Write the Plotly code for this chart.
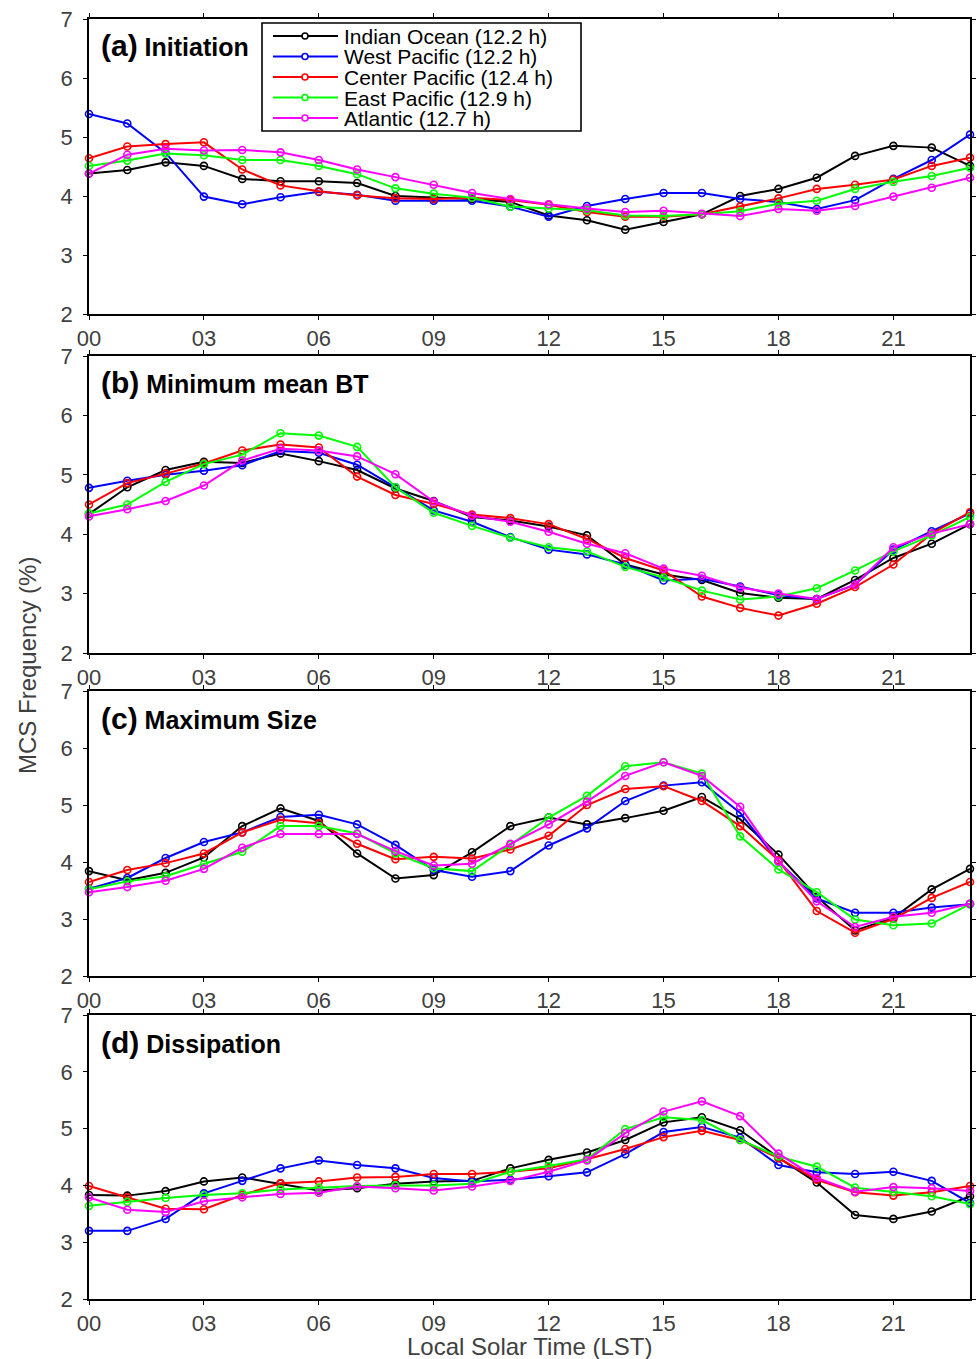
import plotly.graph_objects as go

# Local solar time (hour of day)
hours = list(range(24))
tick_hours = [0, 3, 6, 9, 12, 15, 18, 21]
tick_labels = ["00", "03", "06", "09", "12", "15", "18", "21"]

regions = ["Indian Ocean (12.2 h)", "West Pacific (12.2 h)", "Center Pacific (12.4 h)",
           "East Pacific (12.9 h)", "Atlantic (12.7 h)"]
colors = ["#000000", "#0000FF", "#FF0000", "#00FF00", "#FF00FF"]

panel_titles = ["(a)", "(b)", "(c)", "(d)"]
panel_names = ["Initiation", "Minimum mean BT", "Maximum Size", "Dissipation"]

# MCS frequency (%) by stage and region
initiation_indian = [4.38, 4.44, 4.57, 4.51, 4.29, 4.25, 4.25, 4.22, 4.00, 3.97, 3.95, 3.90,
                     3.67, 3.59, 3.43, 3.56, 3.69, 4.00, 4.12, 4.31, 4.68, 4.85, 4.82, 4.51]
initiation_west = [5.39, 5.23, 4.73, 3.99, 3.86, 3.98, 4.07, 4.02, 3.92, 3.92, 3.92, 3.82,
                   3.65, 3.83, 3.95, 4.05, 4.05, 3.95, 3.90, 3.78, 3.93, 4.29, 4.61, 5.04]
initiation_center = [4.64, 4.84, 4.88, 4.91, 4.45, 4.18, 4.08, 4.01, 3.96, 3.95, 3.97, 3.93,
                     3.85, 3.73, 3.65, 3.65, 3.69, 3.82, 3.96, 4.12, 4.19, 4.28, 4.51, 4.65]
initiation_east = [4.51, 4.60, 4.72, 4.69, 4.61, 4.61, 4.51, 4.37, 4.13, 4.04, 3.97, 3.82,
                   3.79, 3.76, 3.67, 3.66, 3.69, 3.74, 3.87, 3.92, 4.12, 4.24, 4.34, 4.48]
initiation_atlantic = [4.38, 4.70, 4.80, 4.77, 4.78, 4.74, 4.61, 4.45, 4.32, 4.19, 4.05, 3.95,
                       3.86, 3.79, 3.73, 3.75, 3.70, 3.66, 3.78, 3.75, 3.83, 3.99, 4.14, 4.31]

minbt_indian = [4.34, 4.79, 5.08, 5.22, 5.20, 5.36, 5.23, 5.08, 4.77, 4.56, 4.29, 4.23,
                4.13, 3.98, 3.49, 3.32, 3.23, 3.01, 2.93, 2.91, 3.23, 3.60, 3.84, 4.17]
minbt_west = [4.78, 4.90, 5.00, 5.07, 5.16, 5.40, 5.37, 5.17, 4.79, 4.40, 4.21, 3.95,
              3.74, 3.66, 3.49, 3.22, 3.25, 3.12, 2.97, 2.91, 3.15, 3.74, 4.05, 4.35]
minbt_center = [4.50, 4.86, 5.02, 5.19, 5.41, 5.51, 5.46, 4.97, 4.66, 4.51, 4.33, 4.27,
                4.17, 3.92, 3.60, 3.39, 2.95, 2.76, 2.63, 2.83, 3.11, 3.49, 4.01, 4.37]
minbt_east = [4.35, 4.50, 4.88, 5.18, 5.34, 5.70, 5.66, 5.47, 4.79, 4.36, 4.14, 3.94,
              3.78, 3.71, 3.45, 3.27, 3.05, 2.90, 2.95, 3.09, 3.39, 3.71, 3.98, 4.29]
minbt_atlantic = [4.30, 4.42, 4.56, 4.82, 5.24, 5.44, 5.41, 5.31, 5.01, 4.55, 4.31, 4.21,
                  4.04, 3.84, 3.68, 3.42, 3.30, 3.10, 3.00, 2.91, 3.15, 3.78, 4.01, 4.17]

maxsize_indian = [3.84, 3.68, 3.81, 4.08, 4.63, 4.94, 4.72, 4.15, 3.71, 3.77, 4.17, 4.63,
                  4.78, 4.66, 4.77, 4.90, 5.14, 4.75, 4.13, 3.39, 2.80, 3.02, 3.52, 3.88]
maxsize_west = [3.53, 3.72, 4.07, 4.35, 4.52, 4.79, 4.83, 4.66, 4.30, 3.86, 3.74, 3.84,
                4.29, 4.59, 5.07, 5.34, 5.40, 4.86, 4.01, 3.36, 3.11, 3.11, 3.20, 3.26]
maxsize_center = [3.65, 3.86, 3.98, 4.15, 4.52, 4.74, 4.68, 4.32, 4.05, 4.09, 4.06, 4.22,
                  4.46, 5.00, 5.28, 5.33, 5.07, 4.63, 4.03, 3.14, 2.76, 3.00, 3.37, 3.65]
maxsize_east = [3.52, 3.66, 3.75, 3.96, 4.18, 4.63, 4.63, 4.50, 4.15, 3.89, 3.84, 4.30,
                4.78, 5.16, 5.68, 5.75, 5.55, 4.45, 3.87, 3.47, 2.99, 2.89, 2.92, 3.26]
maxsize_atlantic = [3.47, 3.56, 3.67, 3.88, 4.25, 4.49, 4.49, 4.49, 4.19, 3.94, 3.97, 4.32,
                    4.66, 5.06, 5.51, 5.75, 5.51, 4.97, 4.01, 3.31, 2.86, 3.04, 3.11, 3.27]

dissip_indian = [3.83, 3.82, 3.90, 4.07, 4.14, 4.03, 3.91, 3.95, 4.03, 4.07, 4.08, 4.30,
                 4.45, 4.58, 4.80, 5.11, 5.20, 4.97, 4.49, 4.05, 3.48, 3.41, 3.54, 3.81]
dissip_west = [3.20, 3.20, 3.41, 3.86, 4.08, 4.30, 4.44, 4.36, 4.30, 4.13, 4.07, 4.10,
               4.16, 4.23, 4.55, 4.94, 5.03, 4.84, 4.36, 4.23, 4.20, 4.24, 4.08, 3.69]
dissip_center = [3.99, 3.79, 3.59, 3.58, 3.83, 4.04, 4.07, 4.14, 4.15, 4.20, 4.20, 4.24,
                 4.30, 4.46, 4.64, 4.85, 4.96, 4.80, 4.48, 4.10, 3.88, 3.82, 3.88, 3.99]
dissip_east = [3.64, 3.71, 3.78, 3.83, 3.86, 3.93, 3.96, 3.99, 4.00, 4.00, 4.03, 4.24,
               4.34, 4.46, 4.99, 5.20, 5.15, 4.80, 4.51, 4.33, 3.96, 3.89, 3.81, 3.67]
dissip_atlantic = [3.79, 3.57, 3.53, 3.72, 3.79, 3.85, 3.87, 3.98, 3.95, 3.91, 3.98, 4.08,
                   4.24, 4.44, 4.92, 5.30, 5.48, 5.22, 4.56, 4.13, 3.89, 3.97, 3.95, 3.90]

panels = [
    [initiation_indian, initiation_west, initiation_center, initiation_east, initiation_atlantic],
    [minbt_indian, minbt_west, minbt_center, minbt_east, minbt_atlantic],
    [maxsize_indian, maxsize_west, maxsize_center, maxsize_east, maxsize_atlantic],
    [dissip_indian, dissip_west, dissip_center, dissip_east, dissip_atlantic],
]

W, H = 977, 1359
L, R = 89, 7
plot_w = W - L - R
# vertical pixel extents (top, bottom) of each panel
panel_px = [(19, 314), (356, 653), (691, 976), (1015, 1299)]

FONT = "Liberation Sans, Arial, Helvetica, sans-serif"
TICK_COLOR = "#404040"


def px_x(p):
    return (p - L) / plot_w


def px_y(p):
    return 1 - p / H


fig = go.Figure()
layout = {}
annotations = []
shapes = []

for i, series in enumerate(panels):
    ax = "" if i == 0 else str(i + 1)
    top, bot = panel_px[i]
    for name, col, vals in zip(regions, colors, series):
        fig.add_trace(go.Scatter(
            x=hours, y=vals, mode="lines+markers", name=name,
            xaxis="x" + ax, yaxis="y" + ax, showlegend=False, cliponaxis=False,
            line=dict(color=col, width=2),
            marker=dict(symbol="circle-open", size=7, color=col, line=dict(width=1.6, color=col)),
        ))
    axis_common = dict(showline=True, linecolor="black", linewidth=1.5, mirror="ticks",
                       ticks="outside", ticklen=4, tickwidth=1.3, tickcolor="black",
                       showgrid=False, zeroline=False, automargin=False,
                       tickfont=dict(family=FONT, size=22, color=TICK_COLOR))
    layout["xaxis" + ax] = dict(axis_common, range=[0, 23], tickvals=tick_hours,
                                ticktext=tick_labels, domain=[0, 1],
                                anchor="y" + ax)
    layout["yaxis" + ax] = dict(axis_common, range=[2, 7], tickvals=[2, 3, 4, 5, 6, 7],
                                domain=[px_y(bot), px_y(top)], anchor="x" + ax,
                                ticklabelstandoff=6)
    annotations.append(dict(
        xref="paper", yref="paper", x=px_x(99), y=px_y(top + 27),
        xanchor="left", yanchor="middle", showarrow=False,
        text="<b><span style='font-size:30px'>%s</span> %s</b>" % (panel_titles[i], panel_names[i]),
        font=dict(family=FONT, size=25, color="black"),
    ))

# legend box in panel (a)
shapes.append(dict(type="rect", xref="paper", yref="paper",
                   x0=px_x(262), x1=px_x(581), y0=px_y(131), y1=px_y(23),
                   line=dict(color="black", width=1.6), fillcolor="white", layer="above"))
row_y = [36, 56.5, 77, 97.5, 118]
for name, col, ry in zip(regions, colors, row_y):
    shapes.append(dict(type="line", xref="paper", yref="paper",
                       x0=px_x(273), x1=px_x(338), y0=px_y(ry), y1=px_y(ry),
                       line=dict(color=col, width=2), layer="above"))
    shapes.append(dict(type="circle", xref="paper", yref="paper",
                       xsizemode="pixel", ysizemode="pixel",
                       xanchor=px_x(305), yanchor=px_y(ry),
                       x0=-3, x1=3, y0=-3, y1=3,
                       line=dict(color=col, width=1.6), fillcolor="white", layer="above"))
    annotations.append(dict(xref="paper", yref="paper", x=px_x(342), y=px_y(ry + 0.5),
                            xanchor="left", yanchor="middle", showarrow=False,
                            text=name, font=dict(family=FONT, size=21, color="black")))

# axis titles
annotations.append(dict(xref="paper", yref="paper", x=px_x(27), y=px_y(666),
                        xanchor="center", yanchor="middle", showarrow=False, textangle=-90,
                        text="MCS Frequency (%)", font=dict(family=FONT, size=24, color=TICK_COLOR)))
annotations.append(dict(xref="paper", yref="paper", x=px_x(529), y=px_y(1346),
                        xanchor="center", yanchor="middle", showarrow=False,
                        text="Local Solar Time (LST)", font=dict(family=FONT, size=24, color=TICK_COLOR)))

fig.update_layout(
    width=W, height=H,
    margin=dict(l=L, r=R, t=0, b=0, pad=0, autoexpand=False),
    paper_bgcolor="white", plot_bgcolor="white",
    showlegend=False,
    annotations=annotations, shapes=shapes,
    **layout,
)

fig.write_html("out.html")
